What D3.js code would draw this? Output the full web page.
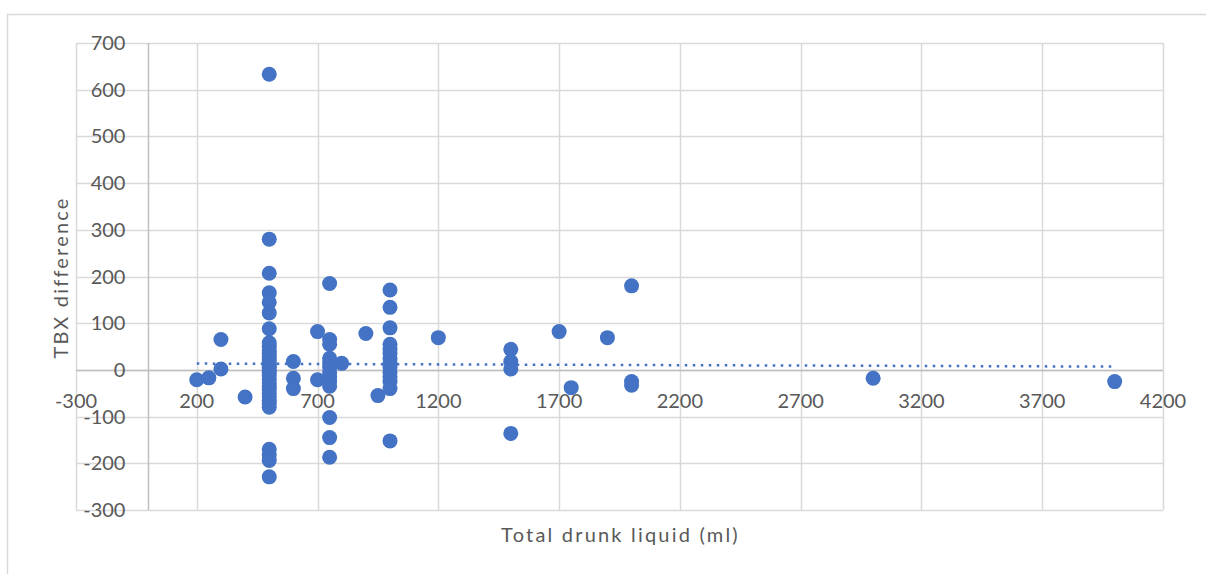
<!DOCTYPE html>
<html>
<head>
<meta charset="utf-8">
<script src="https://cdn.jsdelivr.net/npm/d3@7"></script>
<style>
  html, body { margin: 0; padding: 0; background: #fff; }
  svg { display: block; }
  text { font-family: Lato, "Open Sans", sans-serif; fill: #595959; }
</style>
</head>
<body>
<svg id="chart" width="1206" height="574"></svg>
<script>
// Total drunk liquid (ml) for each measurement
const drunk = [
  200, 250, 300, 300, 400,
  500, 500, 500, 500, 500, 500, 500, 500, 500, 500, 500, 500, 500, 500, 500, 500,
  500, 500, 500, 500, 500, 500, 500, 500, 500, 500, 500, 500, 500, 500, 500, 500,
  600, 600, 600,
  700, 700,
  750, 750, 750, 750, 750, 750, 750, 750, 750, 750, 750, 750, 750,
  800, 900, 950,
  1000, 1000, 1000, 1000, 1000, 1000, 1000, 1000, 1000, 1000, 1000, 1000, 1000, 1000,
  1200,
  1500, 1500, 1500, 1500,
  1700, 1750, 1900,
  2000, 2000, 2000,
  3000, 4000
];

// TBX difference paired with each entry of `drunk`
const tbxDiff = [
  -21, -17, 2, 65, -58,
  633, 280, 207, 165, 145, 122, 88, 58, 50, 42, 35, 28, 22, 15, 10, 5,
  0, -5, -12, -20, -28, -35, -42, -50, -58, -65, -72, -80, -170, -182, -194, -229,
  18, -18, -40,
  82, -21,
  185, 65, 55, 25, 15, 5, -5, -15, -25, -35, -102, -145, -187,
  14, 78, -55,
  171, 134, 90, 55, 45, 35, 25, 15, 5, -5, -15, -25, -40, -152,
  69,
  44, 18, 2, -136,
  82, -38, 69,
  180, -25, -33,
  -18, -25
];

const xTicks = [-300, 200, 700, 1200, 1700, 2200, 2700, 3200, 3700, 4200];
const yTicks = [-300, -200, -100, 0, 100, 200, 300, 400, 500, 600, 700];

const xTitle = "Total drunk liquid (ml)";
const yTitle = "TBX difference";

const blue = "#4472C4";
const grid = "#d9d9d9";
const axisCol = "#bfbfbf";

const svg = d3.select("#chart");

// Outer chart frame
svg.append("rect")
  .attr("x", 7.5).attr("y", 14.5)
  .attr("width", 1210).attr("height", 580)
  .attr("fill", "none").attr("stroke", grid).attr("stroke-width", 1.5);

const plot = { left: 76, right: 1163, top: 43, bottom: 510 };

const x = d3.scaleLinear().domain([-300, 4200]).range([plot.left, plot.right]);
const y = d3.scaleLinear().domain([-300, 700]).range([plot.bottom, plot.top]);

// Gridlines
const g = svg.append("g");
g.selectAll("line.h").data(yTicks).join("line")
  .attr("x1", plot.left).attr("x2", plot.right)
  .attr("y1", d => Math.round(y(d)) + 0.5).attr("y2", d => Math.round(y(d)) + 0.5)
  .attr("stroke", grid).attr("stroke-width", 1.5);
g.selectAll("line.v").data(xTicks).join("line")
  .attr("y1", plot.top).attr("y2", plot.bottom)
  .attr("x1", d => Math.round(x(d)) + 0.5).attr("x2", d => Math.round(x(d)) + 0.5)
  .attr("stroke", grid).attr("stroke-width", 1.5);

// Axis lines crossing at zero
g.append("line")
  .attr("x1", plot.left).attr("x2", plot.right)
  .attr("y1", Math.round(y(0)) + 0.5).attr("y2", Math.round(y(0)) + 0.5)
  .attr("stroke", axisCol).attr("stroke-width", 1.5);
g.append("line")
  .attr("y1", plot.top).attr("y2", plot.bottom)
  .attr("x1", Math.round(x(0)) + 0.5).attr("x2", Math.round(x(0)) + 0.5)
  .attr("stroke", axisCol).attr("stroke-width", 1.5);

// Tick labels
svg.append("g").selectAll("text").data(yTicks).join("text")
  .attr("x", x(0) - 23).attr("y", d => y(d))
  .attr("dy", "0.35em").attr("text-anchor", "end")
  .attr("font-size", 20)
  .text(d => d);
svg.append("g").selectAll("text").data(xTicks).join("text")
  .attr("x", d => x(d)).attr("y", y(0) + 31)
  .attr("dy", "0.35em").attr("text-anchor", "middle")
  .attr("font-size", 20)
  .text(d => d);

// Axis titles
svg.append("text")
  .attr("x", (plot.left + plot.right) / 2 + 1).attr("y", 535)
  .attr("dy", "0.35em").attr("text-anchor", "middle")
  .attr("font-size", 20).attr("letter-spacing", 2.2)
  .text(xTitle);
svg.append("text")
  .attr("transform", `translate(61,${(plot.top + plot.bottom) / 2 + 1}) rotate(-90)`)
  .attr("dy", "0.35em").attr("text-anchor", "middle")
  .attr("font-size", 20).attr("letter-spacing", 2.2)
  .text(yTitle);

// Points
const pts = drunk.map((d, i) => ({ x: d, y: tbxDiff[i] }));
svg.append("g").selectAll("circle").data(pts).join("circle")
  .attr("cx", d => x(d.x)).attr("cy", d => y(d.y))
  .attr("r", 7.5).attr("fill", blue);

// Linear least-squares trendline over the data range
const mx = d3.mean(pts, d => d.x), my = d3.mean(pts, d => d.y);
const sxy = d3.sum(pts, d => (d.x - mx) * (d.y - my));
const sxx = d3.sum(pts, d => (d.x - mx) * (d.x - mx));
const slope = sxy / sxx, icpt = my - slope * mx;
const [xmin, xmax] = d3.extent(drunk);
svg.append("line")
  .attr("x1", x(xmin)).attr("y1", y(icpt + slope * xmin))
  .attr("x2", x(xmax)).attr("y2", y(icpt + slope * xmax))
  .attr("stroke", blue).attr("stroke-width", 2.5)
  .attr("stroke-dasharray", "2.5 5.5");
</script>
</body>
</html>
